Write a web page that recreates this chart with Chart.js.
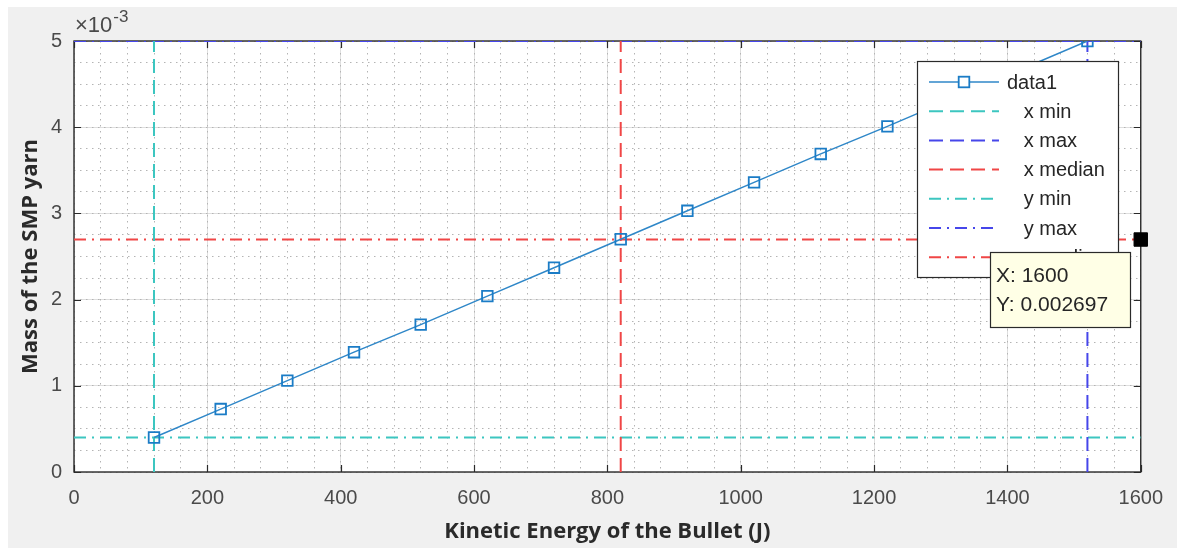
<!DOCTYPE html>
<html>
<head>
<meta charset="utf-8">
<script src="https://cdn.jsdelivr.net/npm/chart.js@4/dist/chart.umd.min.js"></script>
<style>
  body { margin: 0; background: #fff; }
  #wrap { position: absolute; left: 8px; top: 7px; width: 1169px; height: 541px; background: #f0f0f0; }
</style>
</head>
<body>
<div id="wrap"><canvas id="massChart" width="1169" height="541"></canvas></div>
<script>
// data
const energy = [120, 220, 320, 420, 520, 620, 720, 820, 920, 1020, 1120, 1220, 1320, 1420, 1520];
const mass   = [0.00040, 0.00073, 0.00106, 0.00139, 0.00171, 0.00204, 0.00237, 0.00270,
                0.00303, 0.00336, 0.00369, 0.00401, 0.00434, 0.00467, 0.00500];
const xTicks = [0, 200, 400, 600, 800, 1000, 1200, 1400, 1600];
const yTicks = [0, 0.001, 0.002, 0.003, 0.004, 0.005];

const xMin = 120, xMax = 1520, xMedian = 820;
const yMin = 0.0004, yMax = 0.005, yMedian = 0.002697;
const tipX = 1600, tipY = 0.002697;

const CYAN = "#3cc6c0", BLUE = "#4646ea", RED = "#f04646";
const DASH = [14, 7], DASHDOT = [12, 6, 2, 6];

function vline(label, x, color, dash) {
  return { label, data: [{ x, y: yTicks[0] }, { x, y: yTicks[yTicks.length - 1] }],
           showLine: true, borderColor: color, borderWidth: 2, borderDash: dash, pointRadius: 0 };
}
function hline(label, y, color, dash) {
  return { label, data: [{ x: xTicks[0], y }, { x: xTicks[xTicks.length - 1], y }],
           showLine: true, borderColor: color, borderWidth: 2, borderDash: dash, pointRadius: 0 };
}

const datasets = [
  { label: "data1", data: energy.map((x, i) => ({ x, y: mass[i] })),
    showLine: true, borderColor: "#2f87c8", borderWidth: 1.5,
    pointStyle: "rect", pointRadius: 7.5, pointBorderColor: "#1b7cc6",
    pointBackgroundColor: "rgba(0,0,0,0)", pointBorderWidth: 1.8 },
  vline("   x min", xMin, CYAN, DASH),
  vline("   x max", xMax, BLUE, DASH),
  vline("   x median", xMedian, RED, DASH),
  hline("   y min", yMin, CYAN, DASHDOT),
  hline("   y max", yMax, BLUE, DASHDOT),
  hline("   y median", yMedian, RED, DASHDOT),
  { label: "", data: [{ x: tipX, y: tipY }], order: -1, clip: false,
    pointStyle: "rect", pointRadius: 9.5, pointBackgroundColor: "#000", pointBorderColor: "#000" }
];

const tickFont = { family: "'Liberation Sans', Arial, sans-serif", size: 20 };
const titleFont = { family: "'Open Sans', sans-serif", size: 22, weight: "bold" };

// white axes background, box and inward ticks like MATLAB
const framePlugin = {
  id: "frame",
  beforeDraw(chart) {
    const a = chart.chartArea, ctx = chart.ctx;
    ctx.save();
    ctx.fillStyle = "#fff";
    ctx.fillRect(a.left, a.top, a.right - a.left, a.bottom - a.top);
    ctx.restore();
  },
  beforeDatasetsDraw(chart) {
    const a = chart.chartArea, ctx = chart.ctx;
    const sx = chart.scales.x, sy = chart.scales.y;
    ctx.save();
    ctx.strokeStyle = "#2a2a2a";
    ctx.lineWidth = 1.2;
    ctx.beginPath();
    sx.ticks.forEach(t => {
      const px = Math.round(sx.getPixelForValue(t.value)) + 0.5;
      ctx.moveTo(px, a.bottom); ctx.lineTo(px, a.bottom - 7);
      ctx.moveTo(px, a.top); ctx.lineTo(px, a.top + 7);
    });
    sy.ticks.forEach(t => {
      const py = Math.round(sy.getPixelForValue(t.value)) + 0.5;
      ctx.moveTo(a.left, py); ctx.lineTo(a.left + 7, py);
      ctx.moveTo(a.right, py); ctx.lineTo(a.right - 7, py);
    });
    ctx.stroke();
    ctx.lineWidth = 1.4;
    ctx.strokeRect(a.left, a.top, a.right - a.left, a.bottom - a.top);
    ctx.restore();
  },
  afterDraw(chart) {
    const a = chart.chartArea, ctx = chart.ctx;
    ctx.save();
    // exponent label
    ctx.fillStyle = "#4a4a4a";
    ctx.textBaseline = "alphabetic";
    ctx.font = "22px 'Liberation Sans', Arial, sans-serif";
    ctx.fillText("\u00d710", a.left + 1, a.top - 9);
    const w = ctx.measureText("\u00d710").width;
    ctx.font = "17px 'Liberation Sans', Arial, sans-serif";
    ctx.fillText("-3", a.left + 1 + w + 1, a.top - 19);

    // legend
    const lx = 909, ly = 54, lw = 201, lh = 216;
    ctx.fillStyle = "#fff";
    ctx.fillRect(lx, ly, lw, lh);
    ctx.strokeStyle = "#2a2a2a";
    ctx.lineWidth = 1.2;
    ctx.strokeRect(lx + 0.5, ly + 0.5, lw, lh);
    const items = chart.data.datasets.filter(d => d.label);
    items.forEach((d, i) => {
      const y = ly + 21 + i * 29.2;
      ctx.save();
      ctx.strokeStyle = d.borderColor;
      ctx.lineWidth = d.borderWidth;
      ctx.setLineDash(d.borderDash || []);
      ctx.beginPath();
      ctx.moveTo(lx + 12, y); ctx.lineTo(lx + 82, y);
      ctx.stroke();
      if (d.pointRadius) {
        ctx.setLineDash([]);
        ctx.strokeStyle = d.pointBorderColor;
        ctx.lineWidth = d.pointBorderWidth;
        const s = d.pointRadius * Math.SQRT1_2;
        ctx.fillStyle = "#fff";
        ctx.fillRect(lx + 47 - s, y - s, 2 * s, 2 * s);
        ctx.strokeRect(lx + 47 - s, y - s, 2 * s, 2 * s);
      }
      ctx.restore();
      ctx.fillStyle = "#262626";
      ctx.font = "20px 'Liberation Sans', Arial, sans-serif";
      ctx.textBaseline = "middle";
      ctx.fillText(d.label, lx + 90, y + 1);
    });

    // data tip
    const tx = 982, ty = 245, tw = 140, th = 75;
    ctx.fillStyle = "#ffffe6";
    ctx.fillRect(tx, ty, tw, th);
    ctx.strokeStyle = "#2a2a2a";
    ctx.lineWidth = 1.2;
    ctx.strokeRect(tx + 0.5, ty + 0.5, tw, th);
    ctx.fillStyle = "#262626";
    ctx.font = "21px 'Liberation Sans', Arial, sans-serif";
    ctx.textBaseline = "middle";
    ctx.fillText("X: " + tipX, tx + 6, ty + 24);
    ctx.fillText("Y: " + tipY, tx + 6, ty + 53);
    ctx.restore();
  }
};

new Chart(document.getElementById("massChart"), {
  type: "scatter",
  data: { datasets },
  options: {
    responsive: false,
    animation: false,
    events: [],
    layout: { padding: { left: 0, top: 34, right: 36, bottom: 0 } },
    plugins: { legend: { display: false }, tooltip: { enabled: false } },
    scales: {
      x: {
        type: "linear", min: 0, max: 1600,
        afterBuildTicks: s => { s.ticks = xTicks.map(v => ({ value: v })); },
        afterFit: s => { s.height = 76; },
        grid: { color: "#dedede", lineWidth: 1, drawTicks: false },
        border: { display: false },
        ticks: { font: tickFont, color: "#4a4a4a", padding: 14, maxRotation: 0, callback: v => v },
        title: { display: true, text: "Kinetic Energy of the Bullet (J)", font: titleFont,
                 color: "#2a2a2a", padding: { top: 0, bottom: 3 } }
      },
      y: {
        type: "linear", min: 0, max: 0.005,
        afterBuildTicks: s => { s.ticks = yTicks.map(v => ({ value: v })); },
        afterFit: s => { s.width = 66; },
        grid: { color: "#dedede", lineWidth: 1, drawTicks: false },
        border: { display: false },
        ticks: { font: tickFont, color: "#4a4a4a", padding: 12, callback: v => Math.round(v * 1000) },
        title: { display: true, text: "Mass of the SMP yarn", font: titleFont,
                 color: "#2a2a2a", padding: { top: 10, bottom: 0 } }
      },
      xMinor: {
        type: "linear", axis: "x", position: "bottom", min: 0, max: 1600,
        ticks: { display: false, stepSize: 40 },
        afterFit: s => { s.height = 0; },
        grid: { color: "#b4b4b4", lineWidth: 1, drawTicks: false },
        border: { display: false, dash: [1.5, 4.5] }
      },
      yMinor: {
        type: "linear", axis: "y", position: "left", min: 0, max: 0.005,
        ticks: { display: false, stepSize: 0.00025 },
        afterFit: s => { s.width = 0; },
        grid: { color: "#b4b4b4", lineWidth: 1, drawTicks: false },
        border: { display: false, dash: [1.5, 4.5] }
      }
    }
  },
  plugins: [framePlugin]
});
</script>
</body>
</html>
